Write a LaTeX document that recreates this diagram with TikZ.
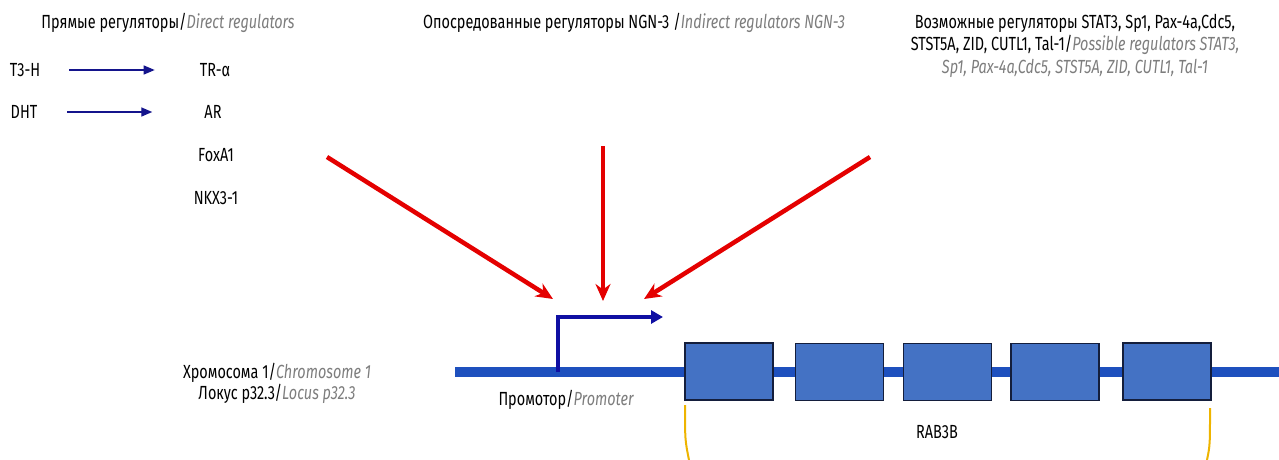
\documentclass[tikz,border=0pt]{standalone}
\usepackage{fontspec}
\setmainfont[FakeStretch=0.76]{Fira Sans}
\usetikzlibrary{arrows.meta}
\definecolor{navy}{RGB}{20,20,140}
\definecolor{chrom}{RGB}{30,80,190}
\definecolor{exonfill}{RGB}{68,114,196}
\definecolor{exonborder}{RGB}{20,30,60}
\definecolor{redarr}{RGB}{228,0,0}
\definecolor{engray}{RGB}{125,125,125}
\definecolor{brk}{RGB}{238,180,0}
\newcommand{\en}[1]{{\itshape\color{engray}#1}}
\begin{document}
\begin{tikzpicture}[x=1pt,y=-1pt,
  lbl/.style={font=\fontsize{19}{22.5}\selectfont, inner sep=0pt, text=black},
  direct/.style={draw=navy, line width=1.4pt, -{Triangle[length=11pt,width=9pt]}},
  regarrow/.style={draw=redarr, line width=4.5pt, -{Stealth[length=17pt,width=15pt]}},
  promarrow/.style={draw=navy!80!blue, line width=4pt, -{Triangle[length=12pt,width=13pt]}},
  chromline/.style={draw=chrom, line width=10pt},
  exon/.style={draw=exonborder, fill=exonfill, line width=1.5pt, minimum width=88pt, minimum height=57pt, inner sep=0pt},
  bracket/.style={draw=brk, line width=2pt}
]
\useasboundingbox (0,0) rectangle (1279,460);

% titles
\node[lbl] (tdirect) at (168,23) {Прямые регуляторы/\en{Direct regulators}};
\node[lbl] (tindirect) at (634,23) {Опосредованные регуляторы NGN-3 /\en{Indirect regulators NGN-3}};
\node[lbl, align=center] (tpossible) at (1075,45.5) {Возможные регуляторы STAT3, Sp1, Pax-4a,Cdc5,\\STST5A, ZID, CUTL1, Tal-1/\en{Possible regulators STAT3,}\\\en{Sp1, Pax-4a,Cdc5, STST5A, ZID, CUTL1, Tal-1}};

% direct regulators
\node[lbl] (t3h) at (25,70) {T3-H};
\node[lbl] (tra) at (215,70) {TR-α};
\node[lbl] (dht) at (24,112) {DHT};
\node[lbl] (ar) at (213,112) {AR};
\node[lbl] (foxa) at (216,155) {FoxA1};
\node[lbl] (nkx) at (216,198) {NKX3-1};
\draw[direct, shorten <=29pt, shorten >=45pt] (t3h.east) -- (tra.west);
\draw[direct, shorten <=30pt, shorten >=52pt] (dht.east) -- (ar.west);

% chromosome
\coordinate (cstart) at (455,372);
\coordinate (cend) at (1279,372);
\draw[chromline] (cstart) -- (cend);
\node[exon] (e1) at (729,371.5) {};
\node[exon] (e2) at (839.5,372) {};
\node[exon] (e3) at (947.5,372) {};
\node[exon] (e4) at (1055,372) {};
\node[exon] (e5) at (1167,371.5) {};

% promoter arrow
\coordinate (pbase) at (558,372);
\coordinate (ptip) at (663,317);
\draw[promarrow] (pbase) |- (ptip);

% regulator arrows
\coordinate (rl0) at (327,157);
\coordinate (rl1) at (553,299);
\coordinate (rm0) at (603,146);
\coordinate (rm1) at (603,301);
\coordinate (rr0) at (870,157);
\coordinate (rr1) at (644,299);
\draw[regarrow] (rl0) -- (rl1);
\draw[regarrow] (rm0) -- (rm1);
\draw[regarrow] (rr0) -- (rr1);

% labels
\node[lbl] (chr) at (277,373) {Хромосома 1/\en{Chromosome 1}};
\node[lbl] (locus) at (277,394) {Локус p32.3/\en{Locus p32.3}};
\node[lbl] (prom) at (566,400) {Промотор/\en{Promoter}};
\node[lbl] (rab) at (937,432) {RAB3B};

% bracket
\coordinate (bl0) at (685,405);
\coordinate (bl1) at (689,460);
\coordinate (br0) at (1210,408);
\coordinate (br1) at (1207,460);
\draw[bracket] (bl0) .. controls (685,440) .. (bl1);
\draw[bracket] (br0) .. controls (1210,445) .. (br1);
\end{tikzpicture}
\end{document}
